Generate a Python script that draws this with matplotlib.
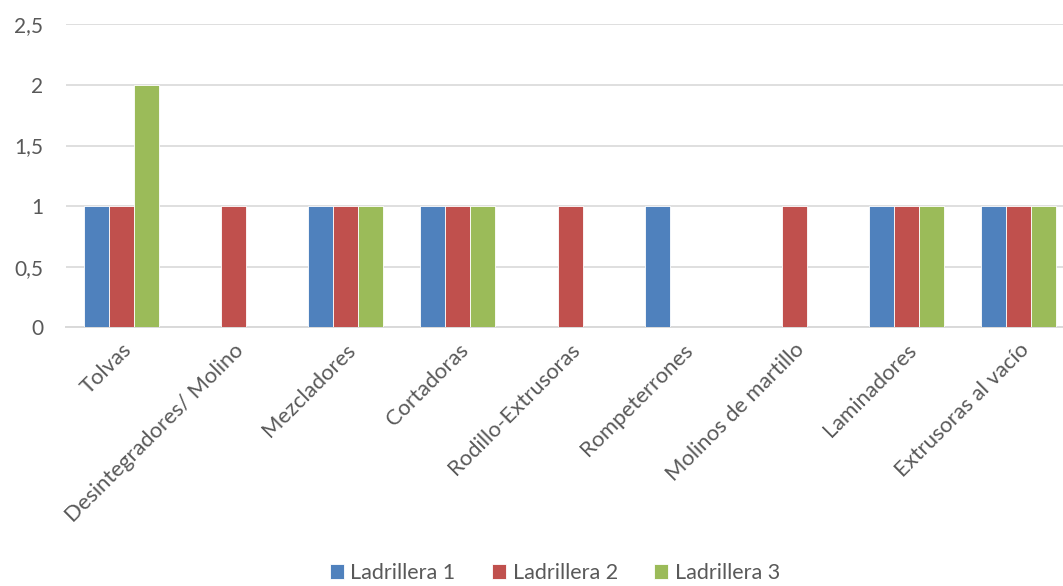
import matplotlib
matplotlib.use("Agg")
import matplotlib.pyplot as plt
import numpy as np

categories = ["Tolvas", "Desintegradores/ Molino", "Mezcladores", "Cortadoras",
              "Rodillo-Extrusoras", "Rompeterrones", "Molinos de martillo",
              "Laminadores", "Extrusoras al vacío"]
ladrillera1 = [1, 0, 1, 1, 0, 1, 0, 1, 1]
ladrillera2 = [1, 1, 1, 1, 1, 0, 1, 1, 1]
ladrillera3 = [2, 0, 1, 1, 0, 0, 0, 1, 1]
series_names = ["Ladrillera 1", "Ladrillera 2", "Ladrillera 3"]
colors = ["#4F81BD", "#C0504D", "#9BBB59"]
yticks = [0, 0.5, 1, 1.5, 2, 2.5]
ytick_labels = ["0", "0,5", "1", "1,5", "2", "2,5"]

plt.rcParams['font.family'] = ['Lato', 'DejaVu Sans']
fig = plt.figure(figsize=(10.63, 5.86), dpi=100)
ax = fig.add_axes([65.5/1063, 1-327.3/586, (1063-65.5)/1063, (327.3-24.3)/586])

x = np.arange(len(categories))
w = 0.223
for i, (vals, name, c) in enumerate(zip([ladrillera1, ladrillera2, ladrillera3], series_names, colors)):
    ax.bar(x + (i-1)*w, vals, width=w, color=c, label=name, edgecolor='white', linewidth=0.6, zorder=3)

ax.set_xlim(-0.5, 8.5 - 11.6/112.1)
ax.set_ylim(0, 2.5)
ax.set_yticks(yticks)
ax.set_yticklabels(ytick_labels)
ax.grid(axis='y', color='#D9D9D9', linewidth=1.2, zorder=0)
for s in ['top', 'right', 'left']:
    ax.spines[s].set_visible(False)
ax.spines['bottom'].set_color('#D9D9D9')
ax.spines['bottom'].set_linewidth(1.4)
ax.tick_params(axis='y', length=0, pad=16, labelsize=15, labelcolor='#595959')
ax.tick_params(axis='x', length=0, pad=9, labelsize=15.8, labelcolor='#595959')
ax.set_xticks(x)
ax.set_xticklabels(categories, rotation=45, ha='right', rotation_mode='anchor')

handles, labels = ax.get_legend_handles_labels()
leg = fig.legend(handles, labels, loc='center', bbox_to_anchor=(555/1063, 1-573/586), ncol=3,
                 frameon=False, fontsize=15.5, handlelength=0.65, handleheight=0.65,
                 handletextpad=0.3, columnspacing=1.7, labelcolor='#595959')

fig.savefig("out.png", dpi=100)
